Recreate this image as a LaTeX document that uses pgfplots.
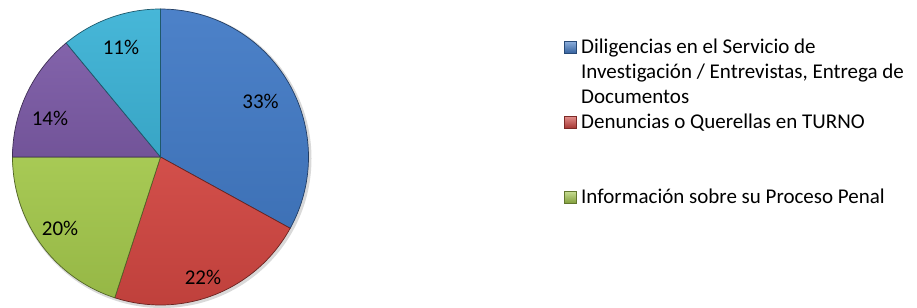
\documentclass[border=0pt]{standalone}
\usepackage{pgfplots}
\pgfplotsset{compat=1.18}
\usepackage{pgfplotstable}
\usepackage{fontspec}
\setmainfont{Carlito}[Ligatures={NoCommon}]
\definecolor{pblue}{HTML}{437BC6}
\definecolor{pred}{HTML}{D04641}
\definecolor{pgreen}{HTML}{A3C74C}
\definecolor{ppurple}{HTML}{7C5BA6}
\definecolor{pcyan}{HTML}{3DB3D6}
\pgfplotstableread{
idx value
0 33
1 22
2 20
3 14
4 11
}\piedata
\begin{document}
\begin{tikzpicture}[x=1bp,y=1bp]
\useasboundingbox (0,0) rectangle (917,307);
\coordinate (pc) at (160.5,150);
\pgfplotstablegetelem{0}{value}\of\piedata\let\vA\pgfplotsretval
\pgfplotstablegetelem{1}{value}\of\piedata\let\vB\pgfplotsretval
\pgfplotstablegetelem{2}{value}\of\piedata\let\vC\pgfplotsretval
\pgfplotstablegetelem{3}{value}\of\piedata\let\vD\pgfplotsretval
\pgfplotstablegetelem{4}{value}\of\piedata\let\vE\pgfplotsretval
\pgfmathsetmacro\aA{90}
\pgfmathsetmacro\aB{\aA-3.6*\vA}
\pgfmathsetmacro\aC{\aB-3.6*\vB}
\pgfmathsetmacro\aD{\aC-3.6*\vC}
\pgfmathsetmacro\aE{\aD-3.6*\vD}
\pgfmathsetmacro\aF{\aE-3.6*\vE}
\fill[black!15] (pc) ++(1.5,-1.5) circle[radius=149.5];
\begin{axis}[at={(pc)}, anchor=center, scale only axis,
  width=296bp, height=296bp, xmin=-1, xmax=1, ymin=-1, ymax=1,
  hide axis, clip=false]
\addplot[top color=pblue!95!white, bottom color=pblue!92!black, draw=pblue!50!black, line width=0.7pt, domain=\aB:\aA, samples=90, variable=\t] ({cos(\t)},{sin(\t)}) -- (axis cs:0,0) -- cycle;
\addplot[top color=pred!95!white, bottom color=pred!92!black, draw=pred!50!black, line width=0.7pt, domain=\aC:\aB, samples=60, variable=\t] ({cos(\t)},{sin(\t)}) -- (axis cs:0,0) -- cycle;
\addplot[top color=pgreen!95!white, bottom color=pgreen!92!black, draw=pgreen!50!black, line width=0.7pt, domain=\aD:\aC, samples=60, variable=\t] ({cos(\t)},{sin(\t)}) -- (axis cs:0,0) -- cycle;
\addplot[top color=ppurple!95!white, bottom color=ppurple!92!black, draw=ppurple!50!black, line width=0.7pt, domain=\aE:\aD, samples=50, variable=\t] ({cos(\t)},{sin(\t)}) -- (axis cs:0,0) -- cycle;
\addplot[top color=pcyan!95!white, bottom color=pcyan!92!black, draw=pcyan!50!black, line width=0.7pt, domain=\aF:\aE, samples=40, variable=\t] ({cos(\t)},{sin(\t)}) -- (axis cs:0,0) -- cycle;
\begin{scope}[every node/.style={font=\fontsize{21bp}{24bp}\selectfont, inner sep=0pt}]
\node at (axis cs:0.676,0.378) {33\%};
\node at (axis cs:0.287,-0.811) {22\%};
\node at (axis cs:-0.679,-0.480) {20\%};
\node at (axis cs:-0.747,0.264) {14\%};
\node at (axis cs:-0.267,0.743) {11\%};
\end{scope}
\end{axis}
\begin{scope}[every node/.style={font=\fontsize{21bp}{25bp}\selectfont, inner sep=0pt, anchor=base west}]
\shade[top color=pblue!60!white, bottom color=pblue!80!black, draw=pblue!60!black, line width=0.3pt] (564,307-53) rectangle (576,307-41);
\node at (581,307-53) {Diligencias en el Servicio de};
\node at (581,307-78) {Investigación / Entrevistas, Entrega de};
\node at (581,307-103) {Documentos};
\shade[top color=pred!60!white, bottom color=pred!80!black, draw=pred!60!black, line width=0.3pt] (564,307-128) rectangle (576,307-116);
\node at (581,307-128) {Denuncias o Querellas en TURNO};
\shade[top color=pgreen!60!white, bottom color=pgreen!80!black, draw=pgreen!60!black, line width=0.3pt] (564,307-203) rectangle (576,307-191);
\node at (581,307-203) {Información sobre su Proceso Penal};
\end{scope}
\end{tikzpicture}
\end{document}
